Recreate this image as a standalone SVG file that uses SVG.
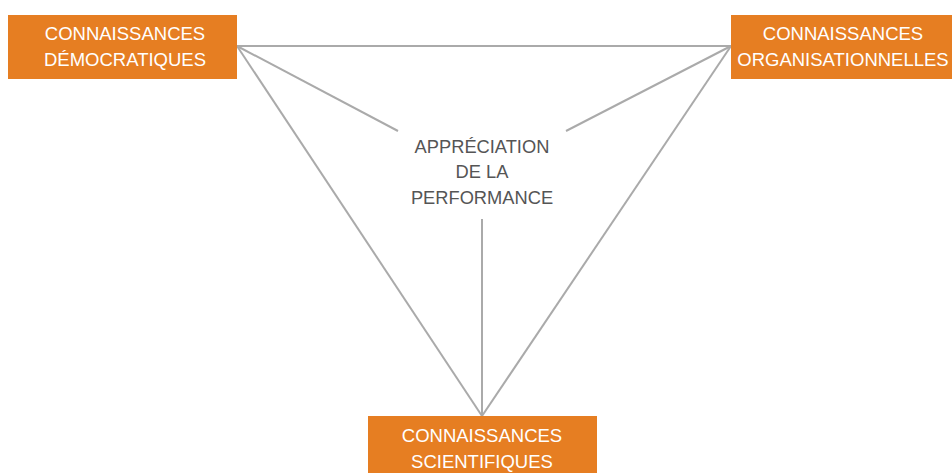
<svg xmlns="http://www.w3.org/2000/svg" width="952" height="473" viewBox="0 0 952 473">
<style>
.box{fill:#E67E22}
.bt{font-family:"Liberation Sans",Arial,sans-serif;font-size:18.5px;fill:#fff;text-anchor:middle}
.ct{font-family:"Liberation Sans",Arial,sans-serif;font-size:18.3px;fill:#555;text-anchor:middle}
.ln{stroke:#aaa;stroke-width:2;fill:none}
</style>
<rect width="952" height="473" fill="#fff"/>
<g id="connectors">
<line class="ln" x1="237" y1="46" x2="731" y2="46"/>
<line class="ln" x1="237" y1="46" x2="482" y2="416"/>
<line class="ln" x1="731" y1="46" x2="482" y2="416"/>
<line class="ln" x1="237" y1="46" x2="398" y2="131"/>
<line class="ln" x1="731" y1="46" x2="566" y2="131"/>
<line class="ln" x1="482" y1="219" x2="482" y2="416"/>
</g>
<g id="democratiques">
<rect class="box" x="8" y="15" width="229" height="64"/>
<text class="bt" x="125" y="40">CONNAISSANCES</text>
<text class="bt" x="125" y="66">DÉMOCRATIQUES</text>
</g>
<g id="organisationnelles">
<rect class="box" x="731" y="15" width="221" height="64"/>
<text class="bt" x="843" y="40">CONNAISSANCES</text>
<text class="bt" x="843" y="66">ORGANISATIONNELLES</text>
</g>
<g id="scientifiques">
<rect class="box" x="368" y="416" width="229" height="57"/>
<text class="bt" x="482" y="442">CONNAISSANCES</text>
<text class="bt" x="482" y="468">SCIENTIFIQUES</text>
</g>
<g id="appreciation">
<text class="ct" x="482" y="153">APPRÉCIATION</text>
<text class="ct" x="482" y="178">DE LA</text>
<text class="ct" x="482" y="204">PERFORMANCE</text>
</g>
</svg>
